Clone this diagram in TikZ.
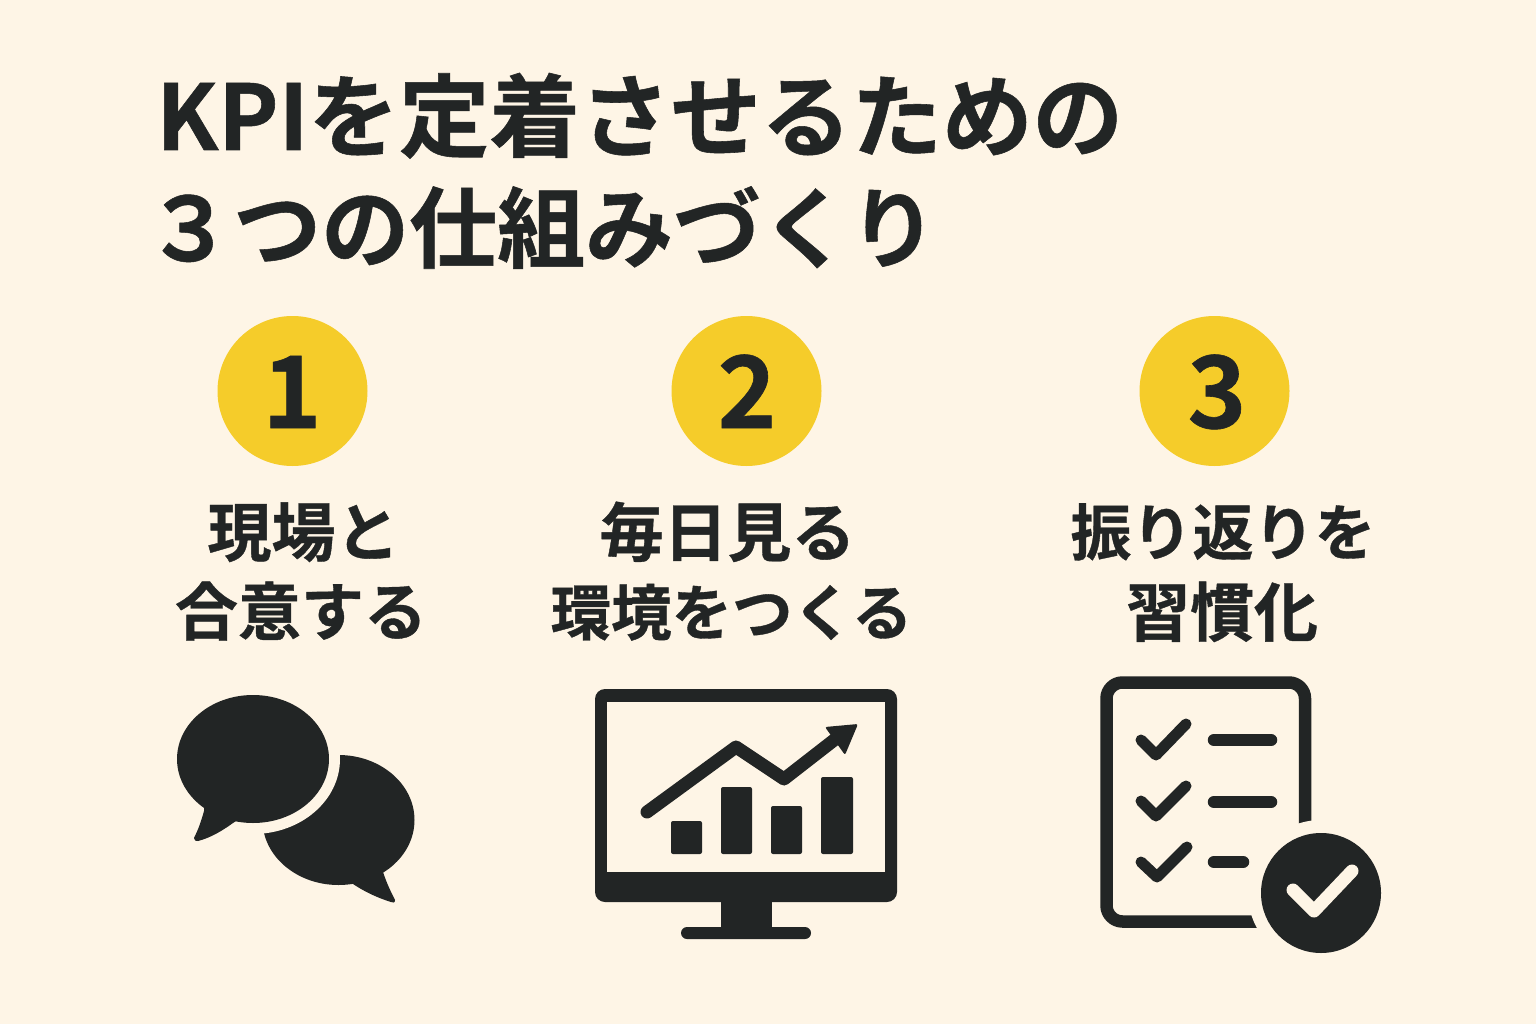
\documentclass[tikz,border=0pt]{standalone}
\usepackage{fontspec}
\setmainfont{Noto Sans CJK JP Bold}[BoldFont={Noto Sans CJK JP Bold},FakeBold=0.6]
\definecolor{bgc}{HTML}{FEF5E6}
\definecolor{ink}{HTML}{222525}
\definecolor{yel}{HTML}{F5CC2A}
\tikzset{
  titletext/.style={anchor=base west,inner sep=0pt,text=ink,font=\fontsize{#1}{#1}\selectfont},
  labeltext/.style={anchor=base,inner sep=0pt,text=ink,font=\fontsize{#1}{#1}\selectfont},
  numdisc/.style={circle,fill=yel,minimum size=150pt,inner sep=0pt},
  numtext/.style={anchor=base,inner sep=0pt,text=ink,font=\fontsize{100}{100}\selectfont},
  inkline/.style={draw=ink,line cap=round,line join=round},
}
\begin{document}
\begin{tikzpicture}[x=1pt,y=-1pt]
\useasboundingbox (0,0) rectangle (1536,1024);
\fill[bgc] (0,0) rectangle (1536,1024);
% title
\node[titletext=90.5] (t1) at (156,150) {KPIを定着させるための};
\node[titletext=88] (t2) at (145,261) {３つの仕組みづくり};
% number discs
\node[numdisc] (d1) at (292.5,391) {};
\node[numdisc] (d2) at (746.5,391) {};
\node[numdisc] (d3) at (1214.5,391) {};
\node[numtext] (n1) at (292,428) {1};
\node[numtext] (n2) at (747,428) {2};
\node[numtext] (n3) at (1217,428) {3};
% labels
\node[labeltext=64] (l1a) at (303.5,556) {現場と};
\node[labeltext=63] (l1b) at (301,635) {合意する};
\node[labeltext=64] (l2a) at (727.5,556) {毎日見る};
\node[labeltext=60.5] (l2b) at (731.5,635) {環境をつくる};
\node[labeltext=61] (l3a) at (1223,555) {振り返りを};
\node[labeltext=64] (l3b) at (1222,636) {習慣化};
% speech bubbles
\fill[ink] (338.5,820) ellipse [x radius=76,y radius=65];
\fill[ink] (383,868) -- (383,872) .. controls (387,884) and (391,892) .. (395,900)
  .. controls (395,903) and (393,903) .. (391,902)
  .. controls (378,898) and (365,892) .. (353,884) -- (345,875) -- cycle;
\fill[bgc] (253,759) ellipse [x radius=87,y radius=75];
\fill[ink] (253,759) ellipse [x radius=76,y radius=64];
\fill[ink] (204,805) -- (204,811) .. controls (201,822) and (198,830) .. (194,838)
  .. controls (194,841) and (196,841) .. (198,841)
  .. controls (210,838) and (222,831) .. (233,823) -- (245,815) -- cycle;
% monitor
\fill[ink,rounded corners=10pt] (595,689) rectangle (897,902);
\fill[bgc] (607,702) rectangle (885,872);
\fill[ink] (721,900) rectangle (772,930);
\fill[ink,rounded corners=6pt] (681,927) rectangle (811,939);
\draw[inkline,line width=13pt] (647,812) -- (736,747) -- (784,779) -- (838,737);
\fill[ink,rounded corners=2pt] (825,727) -- (858,724) -- (845,755) -- cycle;
\foreach \xa/\xb/\yt in {671/702/821,721/752/787,771/802/806,821/853/777}
  \fill[ink,rounded corners=2pt] (\xa,\yt) rectangle (\xb,854);
% checklist
\draw[draw=ink,line width=12.5pt,rounded corners=16pt] (1305,835) -- (1305,682.5) -- (1106.5,682.5) -- (1106.5,921.5) -- (1270,921.5);
\fill[bgc] (1321,893) circle [radius=73];
\fill[ink] (1321,893) circle [radius=60];
\draw[inkline,line width=11pt] (1141,740) -- (1156,755) -- (1186,724);
\draw[inkline,line width=11pt] (1141,801) -- (1156,816) -- (1186,786);
\draw[inkline,line width=11pt] (1141,862) -- (1157,877) -- (1187,847);
\draw[inkline,line width=12.5pt] (1214,740) -- (1271,740);
\draw[inkline,line width=12.5pt] (1214,802) -- (1271,802);
\draw[inkline,line width=12.5pt] (1214,862) -- (1243,862);
\draw[draw=bgc,line cap=round,line join=round,line width=13pt] (1293,890) -- (1314,911) -- (1352,871);
\end{tikzpicture}
\end{document}
